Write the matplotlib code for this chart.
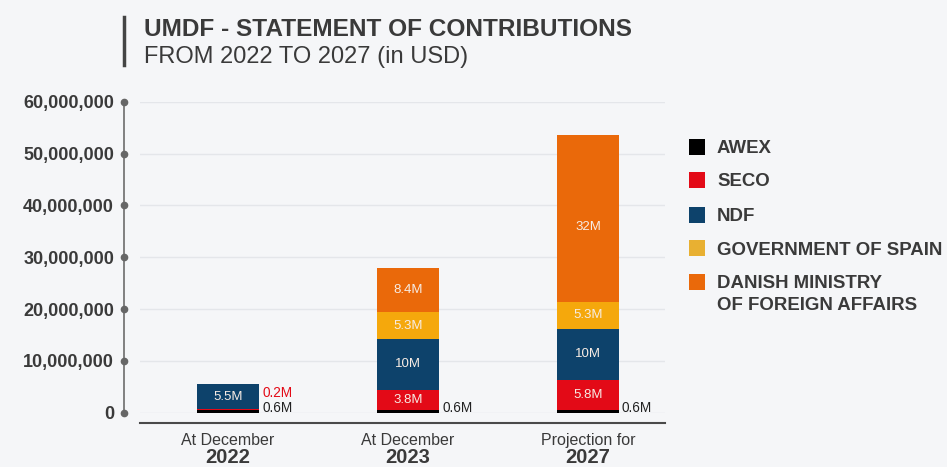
import matplotlib
matplotlib.use("Agg")
import matplotlib.pyplot as plt
from matplotlib.lines import Line2D
from matplotlib.patches import Rectangle
import matplotlib.transforms as mtransforms

plt.rcParams['font.family'] = ['Liberation Sans', 'DejaVu Sans']

# ---- data ----
periods_top = ["At December", "At December", "Projection for"]
periods_year = ["2022", "2023", "2027"]
series_names = ["AWEX", "SECO", "NDF", "GOVERNMENT OF SPAIN", "DANISH MINISTRY", "OF FOREIGN AFFAIRS"]
awex = [0.6e6, 0.6e6, 0.6e6]
seco = [0.15e6, 3.8e6, 5.8e6]
ndf = [4.7e6, 9.8e6, 9.8e6]
spain = [0.0, 5.2e6, 5.2e6]
danish = [0.0, 8.5e6, 32.2e6]
awex_labels = ["0.6M", "0.6M", "0.6M"]
seco_labels = ["0.2M", "3.8M", "5.8M"]
ndf_labels = ["5.5M", "10M", "10M"]
spain_labels = ["", "5.3M", "5.3M"]
danish_labels = ["", "8.4M", "32M"]
yticks = [0, 10e6, 20e6, 30e6, 40e6, 50e6, 60e6]
ytick_labels = ["0", "10,000,000", "20,000,000", "30,000,000", "40,000,000", "50,000,000", "60,000,000"]

colors = ["#000000", "#e30a17", "#0d426b", "#f5a80c", "#ea690a"]
legend_colors = ["#000000", "#e30a17", "#0d426b", "#e8b032", "#ea690a"]
BG = "#f5f6f8"
TXT = "#3a3a3a"

W, H = 947, 467
fig = plt.figure(figsize=(W / 100, H / 100), dpi=100, facecolor=BG)

def fx(x):
    return x / W

def fy(y):
    return 1 - y / H

PX2PT = 0.72

# axes: x 140..665 px, y 101.7 (60M) .. 412.7 (0)
ax_l, ax_r, ax_t, ax_b = 140, 665, 101.7, 412.7
ax = fig.add_axes([fx(ax_l), fy(ax_b), (ax_r - ax_l) / W, (ax_b - ax_t) / H])
ax.set_facecolor(BG)
centers = [228, 408, 588]
xs = [0, 1, 2]
unit = 180.0
ax.set_xlim((ax_l - centers[0]) / unit, (ax_r - centers[0]) / unit)
ax.set_ylim(0, 60e6)
bw = 62 / unit

for s in ["top", "right", "bottom"]:
    ax.spines[s].set_visible(False)
ax.spines["left"].set_position(("outward", 16 * PX2PT))
ax.spines["left"].set_color("#777777")
ax.spines["left"].set_linewidth(1.3)
ax.set_yticks(yticks)
ax.set_yticklabels(ytick_labels, fontsize=13, fontweight="bold", color=TXT)
ax.tick_params(axis="y", length=0, pad=10 * PX2PT)
ax.set_xticks([])
for yv in yticks:
    ax.axhline(yv, color="#e4e6ea", lw=1, zorder=0)

# tick dots on the moved spine
dot_tr = mtransforms.blended_transform_factory(ax.transAxes, ax.transData)
ax.plot([-16 / (ax_r - ax_l)] * len(yticks), yticks, "o", ms=4.5, color="#666666",
        transform=dot_tr, clip_on=False, zorder=5)

# stacked bars
stacks = [awex, seco, ndf, spain, danish]
inner_labels = [awex_labels, seco_labels, ndf_labels, spain_labels, danish_labels]
bottoms = [0.0, 0.0, 0.0]
for si, vals in enumerate(stacks):
    ax.bar(xs, vals, bottom=bottoms, width=bw, color=colors[si], linewidth=0, zorder=3)
    for i in range(3):
        lab = inner_labels[si][i]
        if si >= 1 and lab and not (si == 1 and i == 0):
            yc = bottoms[i] + vals[i] / 2
            if si == 4 and i == 2:
                yc = bottoms[i] + vals[i] * 0.45
            ax.text(xs[i], yc, lab, ha="center", va="center",
                    fontsize=9.5, color="#f7ece4", zorder=4)
    bottoms = [b + v for b, v in zip(bottoms, vals)]

# outside labels
for i in range(3):
    ax.text(xs[i] + bw / 2 + 3 / unit, 0.2e6, awex_labels[i], ha="left", va="baseline",
            fontsize=9.8, color="#222222", zorder=4)
ax.text(xs[0] + bw / 2 + 3 / unit, 3.1e6, seco_labels[0], ha="left", va="baseline",
        fontsize=9.8, color="#e30a17", zorder=4)

# baseline
fig.add_artist(Line2D([fx(140), fx(665)], [fy(422.7), fy(422.7)], color="#4a4a4a", lw=1.5))

# category labels
for i in range(3):
    fig.text(fx(centers[i]), fy(445.2), periods_top[i], ha="center", va="baseline",
             fontsize=11.5, color=TXT)
    fig.text(fx(centers[i]), fy(463), periods_year[i], ha="center", va="baseline",
             fontsize=14.5, fontweight="bold", color=TXT)

# title
fig.add_artist(Line2D([fx(124), fx(124)], [fy(17), fy(65)], color="#444444", lw=2.5))
fig.text(fx(144), fy(36), "UMDF - STATEMENT OF CONTRIBUTIONS", ha="left", va="baseline",
         fontsize=17.6, fontweight="bold", color=TXT)
fig.text(fx(144), fy(63.5), "FROM 2022 TO 2027 (in USD)", ha="left", va="baseline",
         fontsize=17, color=TXT)

# legend
leg_y = [146.7, 180, 215, 248.3, 281.7, 303.5]
for i, name in enumerate(series_names):
    if i < 5:
        fig.add_artist(Rectangle((fx(689), fy(leg_y[i] + 8)), 16 / W, 16 / H,
                                 transform=fig.transFigure, color=legend_colors[i], lw=0))
    fig.text(fx(717), fy(leg_y[i]), name, ha="left", va="center_baseline",
             fontsize=13.4, fontweight="bold", color=TXT)

fig.savefig("out.png", dpi=100, facecolor=BG)
